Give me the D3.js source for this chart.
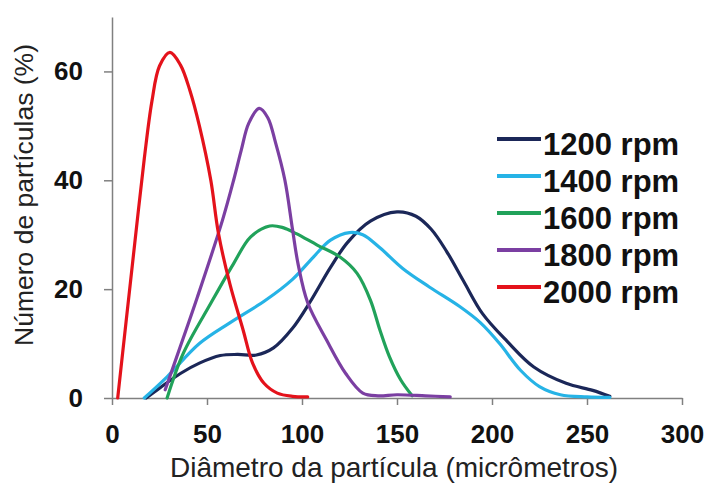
<!DOCTYPE html>
<html>
<head>
<meta charset="utf-8">
<script src="https://cdn.jsdelivr.net/npm/d3@7"></script>
<style>
  html, body { margin: 0; padding: 0; background: #fff; }
  svg { display: block; font-family: Arial, 'Liberation Sans', sans-serif; }
  .axis path, .axis line { stroke: #808080; stroke-width: 1.5; }
  .axis text { font-size: 26px; font-weight: bold; fill: #111; }
</style>
</head>
<body>
<svg width="708" height="488"></svg>
<script>
// Series (x in micrometres, y in %)
const seriesNames = ['1200 rpm', '1400 rpm', '1600 rpm', '1800 rpm', '2000 rpm'];
const seriesColors = ['#1b2758', '#26b3e6', '#21a25a', '#7b3fa2', '#e4121b'];

const x1200 = [18, 25, 36, 46, 57, 66, 76, 85, 95, 104, 115, 124, 136, 150, 160, 168, 176, 185, 195, 208, 222, 239, 253, 262];
const y1200 = [0, 1.8, 4.5, 6.4, 7.8, 8.0, 7.9, 9.2, 12.8, 17.5, 24, 28.6, 32.5, 34.2, 33.4, 31, 27, 21.5, 15.5, 10.4, 5.7, 2.7, 1.4, 0.3];

const x1400 = [17, 29, 46, 62, 81, 95, 106, 115, 125, 132, 141, 153, 167, 183, 194, 204, 215, 225, 236, 250, 262];
const y1400 = [0, 3.9, 10, 13.8, 18, 21.8, 25.9, 29, 30.4, 30, 27.6, 23.8, 20.4, 16.8, 13.8, 10, 5.1, 2.1, 0.6, 0.2, 0.1];

const x1600 = [29, 37.5, 52, 64, 73, 83, 90, 97, 108, 120, 129, 136, 141, 146, 152, 158];
const y1600 = [0, 8.2, 17.4, 24.7, 29.6, 31.6, 31.3, 30.2, 28.1, 25.9, 22.9, 18, 12.5, 7.6, 3.3, 0.4];

const x1800 = [28, 36, 45, 58, 64, 68, 72, 77.5, 82, 86, 91, 95, 98, 103, 113, 123, 132, 140, 150, 165, 178];
const y1800 = [1.5, 9.5, 18.6, 32.5, 40, 45.5, 50.5, 53.2, 51.5, 47, 40, 31, 24.5, 17.5, 10.6, 4.5, 0.9, 0.4, 0.6, 0.4, 0.2];

const x2000 = [3, 7.4, 12, 17, 21, 25, 30.5, 36, 41, 46, 52, 56, 62, 69, 74, 80, 87, 95, 103];
const y2000 = [0, 14, 28.5, 44, 54.5, 61, 63.5, 61.2, 56.5, 50, 40, 30.3, 21, 12.5, 6.4, 2.7, 0.9, 0.3, 0.2];

const xTicks = [0, 50, 100, 150, 200, 250, 300];
const yTicks = [0, 20, 40, 60];

const xs = [x1200, x1400, x1600, x1800, x2000];
const ys = [y1200, y1400, y1600, y1800, y2000];
const series = seriesNames.map((name, i) => ({
    name: name,
    color: seriesColors[i],
    points: xs[i].map((v, j) => ({ x: v, y: ys[i][j] }))
}));

const svg = d3.select('svg');

const x = d3.scaleLinear().domain([0, 300]).range([112, 682]);
const y = d3.scaleLinear().domain([0, 70]).range([398, 17]);

// Axes
svg.append('g')
    .attr('class', 'axis')
    .attr('transform', 'translate(0,' + y(0) + ')')
    .call(d3.axisBottom(x).tickValues(xTicks).tickSize(7).tickSizeOuter(0).tickPadding(20));

svg.append('g')
    .attr('class', 'axis')
    .attr('transform', 'translate(' + x(0) + ',0)')
    .call(d3.axisLeft(y).tickValues(yTicks).tickSize(8).tickSizeOuter(0).tickPadding(21));

// Curves
const line = d3.line()
    .curve(d3.curveCatmullRom.alpha(0.5))
    .x((d) => x(d.x))
    .y((d) => y(d.y));

svg.append('g')
    .selectAll('path')
    .data(series)
    .enter()
    .append('path')
    .attr('d', (d) => line(d.points))
    .attr('fill', 'none')
    .attr('stroke', (d) => d.color)
    .attr('stroke-width', 3.2)
    .attr('stroke-linejoin', 'round')
    .attr('stroke-linecap', 'round');

// Axis titles
svg.append('text')
    .attr('x', 394)
    .attr('y', 477)
    .attr('text-anchor', 'middle')
    .attr('font-size', 28)
    .attr('fill', '#222')
    .text('Diâmetro da partícula (micrômetros)');

svg.append('text')
    .attr('transform', 'translate(33,195) rotate(-90)')
    .attr('text-anchor', 'middle')
    .attr('font-size', 26.5)
    .attr('fill', '#222')
    .text('Número de partículas (%)');

// Legend
const legend = svg.append('g')
    .selectAll('g')
    .data(series)
    .enter()
    .append('g')
    .attr('transform', (d, i) => 'translate(497,' + (139 + i * 37) + ')');

legend.append('line')
    .attr('x1', 0)
    .attr('x2', 44)
    .attr('stroke', (d) => d.color)
    .attr('stroke-width', 4);

legend.append('text')
    .attr('x', 46)
    .attr('y', 16)
    .attr('font-size', 31)
    .attr('font-weight', 'bold')
    .attr('fill', '#111')
    .text((d) => d.name);
</script>
</body>
</html>
